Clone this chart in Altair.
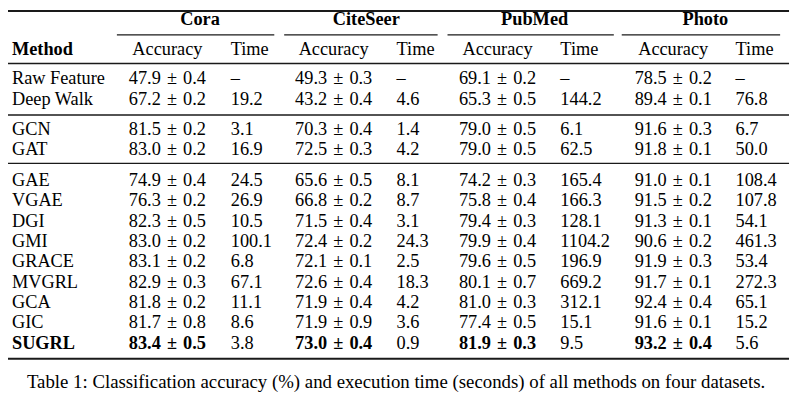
import altair as alt
import pandas as pd

# ---------------- data ----------------
methods = ["Raw Feature", "Deep Walk", "GCN", "GAT", "GAE", "VGAE", "DGI", "GMI",
           "GRACE", "MVGRL", "GCA", "GIC", "SUGRL"]
datasets = ["Cora", "CiteSeer", "PubMed", "Photo"]

cora_acc = [47.9, 67.2, 81.5, 83.0, 74.9, 76.3, 82.3, 83.0, 83.1, 82.9, 81.8, 81.7, 83.4]
cora_std = [0.4, 0.2, 0.2, 0.2, 0.4, 0.2, 0.5, 0.2, 0.2, 0.3, 0.2, 0.8, 0.5]
cora_time = [None, 19.2, 3.1, 16.9, 24.5, 26.9, 10.5, 100.1, 6.8, 67.1, 11.1, 8.6, 3.8]

citeseer_acc = [49.3, 43.2, 70.3, 72.5, 65.6, 66.8, 71.5, 72.4, 72.1, 72.6, 71.9, 71.9, 73.0]
citeseer_std = [0.3, 0.4, 0.4, 0.3, 0.5, 0.2, 0.4, 0.2, 0.1, 0.4, 0.4, 0.9, 0.4]
citeseer_time = [None, 4.6, 1.4, 4.2, 8.1, 8.7, 3.1, 24.3, 2.5, 18.3, 4.2, 3.6, 0.9]

pubmed_acc = [69.1, 65.3, 79.0, 79.0, 74.2, 75.8, 79.4, 79.9, 79.6, 80.1, 81.0, 77.4, 81.9]
pubmed_std = [0.2, 0.5, 0.5, 0.5, 0.3, 0.4, 0.3, 0.4, 0.5, 0.7, 0.3, 0.5, 0.3]
pubmed_time = [None, 144.2, 6.1, 62.5, 165.4, 166.3, 128.1, 1104.2, 196.9, 669.2, 312.1, 15.1, 9.5]

photo_acc = [78.5, 89.4, 91.6, 91.8, 91.0, 91.5, 91.3, 90.6, 91.9, 91.7, 92.4, 91.6, 93.2]
photo_std = [0.2, 0.1, 0.3, 0.1, 0.1, 0.2, 0.1, 0.2, 0.3, 0.1, 0.4, 0.1, 0.4]
photo_time = [None, 76.8, 6.7, 50.0, 108.4, 107.8, 54.1, 461.3, 53.4, 272.3, 65.1, 15.2, 5.6]

best_method = "SUGRL"
caption = ("Table 1: Classification accuracy (%) and execution time (seconds) "
           "of all methods on four datasets.")

# ---------------- layout (positions kept apart from the data) ----------------
W, H = 792, 393
FONT = "Liberation Serif"
FS = 18.5
# rows: body-row index units; groups separated by half a row
row_pos = [0, 1, 2.5, 3.5, 5, 6, 7, 8, 9, 10, 11, 12, 13]
ROW_UNIT = 20.55
ROW0 = 75.0  # chart-pixel baseline of first body row
y_domain = [-ROW0 / ROW_UNIT, (H - ROW0) / ROW_UNIT]
Y_DATASET, Y_HEADER, Y_CAPTION = -2.9, -1.445, 14.94
Y_TOP, Y_CMID, Y_HEAD_RULE, Y_G1, Y_G2, Y_BOTTOM = -3.60, -2.43, -1.02, 1.51, 3.89, 13.5

X_METHOD = 12
acc_x = [169, 337, 502.5, 680]
time_x = [233, 400.5, 566, 743]
ds_x = [202, 370, 540, 712.5]
cmid = [(118, 277), (287, 442), (452, 620), (628, 788)]
X_LEFT, X_RIGHT, X_CAPTION = 8, 797, 400

PM = "\u2004\u00b1\u2004"

acc_all = [cora_acc, citeseer_acc, pubmed_acc, photo_acc]
std_all = [cora_std, citeseer_std, pubmed_std, photo_std]
time_all = [cora_time, citeseer_time, pubmed_time, photo_time]

cells = []
def add(x, y, text, align, bold):
    cells.append({"x": x, "y": y, "text": text, "align": align, "bold": bold})

add(X_METHOD, Y_HEADER, "Method", "left", True)
for d, name in enumerate(datasets):
    add(ds_x[d], Y_DATASET, name, "center", True)
    add(acc_x[d], Y_HEADER, "Accuracy", "center", False)
    add(time_x[d], Y_HEADER, "Time", "left", False)

for i, m in enumerate(methods):
    best = m == best_method
    add(X_METHOD, row_pos[i], m, "left", best)
    for d in range(4):
        add(acc_x[d], row_pos[i], f"{acc_all[d][i]:.1f}{PM}{std_all[d][i]:.1f}", "center", best)
        t = time_all[d][i]
        add(time_x[d], row_pos[i], "\u2013" if t is None else f"{t:.1f}", "left", False)

cells_df = pd.DataFrame(cells)

rules = [
    {"x": X_LEFT, "x2": X_RIGHT, "y": Y_TOP, "w": 2.0},
    {"x": X_LEFT, "x2": X_RIGHT, "y": Y_HEAD_RULE, "w": 1.4},
    {"x": X_LEFT, "x2": X_RIGHT, "y": Y_G1, "w": 1.4},
    {"x": X_LEFT, "x2": X_RIGHT, "y": Y_G2, "w": 1.4},
    {"x": X_LEFT, "x2": X_RIGHT, "y": Y_BOTTOM, "w": 2.0},
]
for a, b in cmid:
    rules.append({"x": a, "x2": b, "y": Y_CMID, "w": 1.2})
rules_df = pd.DataFrame(rules)

xs = alt.Scale(domain=[8, 8 + W], range=[0, W])
ys = alt.Scale(domain=y_domain, range=[0, H])

rule_layer = alt.Chart(rules_df).mark_rule(color="#1a1a1a").encode(
    x=alt.X("x:Q", scale=xs, axis=None),
    x2="x2:Q",
    y=alt.Y("y:Q", scale=ys, axis=None),
    strokeWidth=alt.StrokeWidth("w:Q", scale=None, legend=None),
)

def text_layer(align, bold):
    df = cells_df[(cells_df["align"] == align) & (cells_df["bold"] == bold)]
    return alt.Chart(df).mark_text(
        align=align, baseline="alphabetic", font=FONT, fontSize=FS,
        fontWeight="bold" if bold else "normal", color="#000000",
    ).encode(
        x=alt.X("x:Q", scale=xs, axis=None),
        y=alt.Y("y:Q", scale=ys, axis=None),
        text="text:N",
    )

cap_df = pd.DataFrame([{"x": X_CAPTION, "y": Y_CAPTION, "text": caption}])
cap_layer = alt.Chart(cap_df).mark_text(
    align="center", baseline="alphabetic", font=FONT, fontSize=19, color="#000000"
).encode(
    x=alt.X("x:Q", scale=xs, axis=None),
    y=alt.Y("y:Q", scale=ys, axis=None),
    text="text:N",
)

chart = alt.layer(
    rule_layer,
    text_layer("left", False), text_layer("left", True),
    text_layer("center", False), text_layer("center", True),
    cap_layer,
).properties(
    width=W, height=H, padding=0, background="white",
    autosize=alt.AutoSizeParams(type="none"),
).configure_view(stroke=None)

chart.save("out.html", embed_options={"renderer": "svg", "actions": False})
